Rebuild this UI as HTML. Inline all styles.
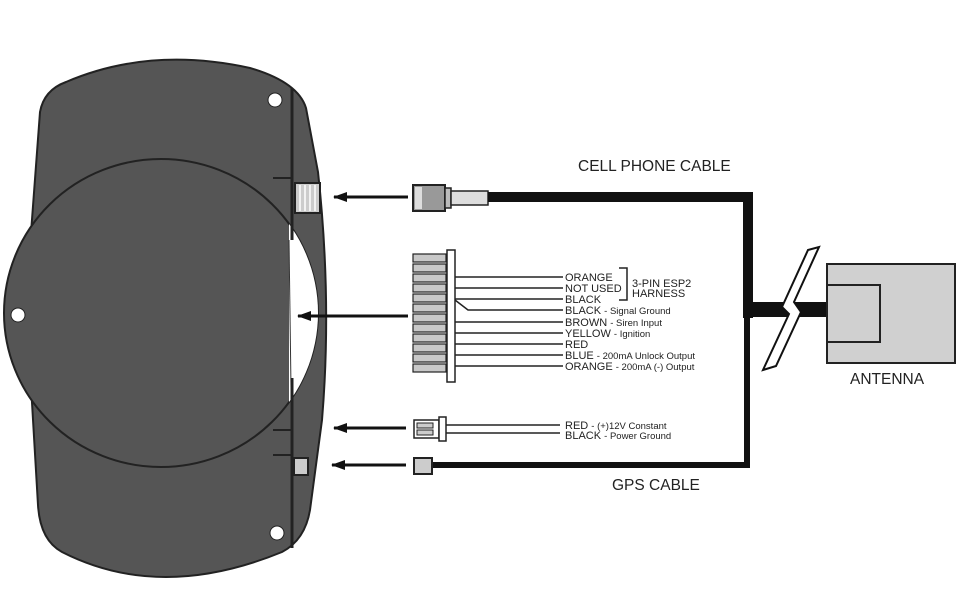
<!DOCTYPE html>
<html><head><meta charset="utf-8"><style>
html,body{margin:0;padding:0;background:#fff;}
svg{display:block;}
text{font-family:"Liberation Sans",Arial,sans-serif;fill:#222;}
</style></head><body>
<svg width="963" height="608" viewBox="0 0 963 608" xmlns="http://www.w3.org/2000/svg">
<defs>
<clipPath id="cc"><ellipse cx="161" cy="313" rx="157" ry="154"/></clipPath>
<marker id="ah" markerWidth="14" markerHeight="10" refX="1" refY="5" orient="auto" markerUnits="userSpaceOnUse">
<path d="M14,0 L0,5 L14,10 Z" fill="#111"/></marker>
</defs>
<path d="M40,112 Q44,90 66,82 Q150,46 250,68 Q298,82 306,108 L318,172 Q332,300 322,420 L310,510 Q305,540 282,552 Q160,602 62,552 Q40,540 38,505 L26,300 Z" fill="#555" stroke="#222" stroke-width="2"/>
<ellipse cx="161" cy="313" rx="157" ry="154" fill="#555" stroke="#222" stroke-width="2"/>
<rect x="289" y="150" width="60" height="330" fill="#fff" clip-path="url(#cc)"/>
<path d="M289,240 L291,388" stroke="#333" stroke-width="1"/>
<line x1="292" y1="88" x2="292" y2="240" stroke="#222" stroke-width="3"/>
<line x1="292" y1="378" x2="292" y2="548" stroke="#222" stroke-width="3"/>
<line x1="273" y1="178" x2="292" y2="178" stroke="#222" stroke-width="2"/>
<line x1="273" y1="430" x2="292" y2="430" stroke="#222" stroke-width="2"/>
<line x1="273" y1="455" x2="292" y2="455" stroke="#222" stroke-width="2"/>
<rect x="295" y="183" width="25" height="30" fill="#ccc" stroke="#222" stroke-width="2"/>
<path d="M300,185v26M305,185v26M310,185v26M315,185v26" stroke="#fff" stroke-width="1.5"/>
<rect x="294" y="458" width="14" height="17" fill="#ccc" stroke="#222" stroke-width="2"/>
<circle cx="275" cy="100" r="7" fill="#fff" stroke="#222"/>
<circle cx="18" cy="315" r="7" fill="#fff" stroke="#222"/>
<circle cx="277" cy="533" r="7" fill="#fff" stroke="#222"/>
<g stroke="#111" stroke-width="3">
<line x1="334" y1="197" x2="408" y2="197" marker-start="url(#ah)"/>
<line x1="298" y1="316" x2="408" y2="316" marker-start="url(#ah)"/>
<line x1="334" y1="428" x2="406" y2="428" marker-start="url(#ah)"/>
<line x1="332" y1="465" x2="406" y2="465" marker-start="url(#ah)"/>
</g>
<rect x="413" y="185" width="32" height="26" fill="#999" stroke="#222" stroke-width="2"/>
<rect x="415" y="187" width="7" height="22" fill="#ddd"/>
<rect x="445" y="188" width="6" height="20" fill="#bbb" stroke="#222" stroke-width="1.5"/>
<rect x="451" y="191" width="37" height="14" fill="#ddd" stroke="#222" stroke-width="1.5"/>
<path d="M488,197 H748 V318" fill="none" stroke="#111" stroke-width="10"/>
<rect x="743" y="302" width="85" height="15" fill="#111"/>
<path d="M747,317 V465 H432" fill="none" stroke="#111" stroke-width="6"/>
<polygon points="808,250 819,247 794,302 801,312 776,366 763,370 789,314 782,307" fill="#fff" stroke="#111" stroke-width="2"/>
<rect x="827" y="264" width="128" height="99" fill="#d0d0d0" stroke="#222" stroke-width="2"/>
<rect x="827" y="285" width="53" height="57" fill="none" stroke="#222" stroke-width="2"/>
<rect x="414" y="458" width="18" height="16" fill="#ccc" stroke="#222" stroke-width="2"/>
<rect x="447" y="250" width="8" height="132" fill="#fff" stroke="#222" stroke-width="1.5"/>
<g fill="#c8c8c8" stroke="#222" stroke-width="1.2">
<rect x="413" y="254" width="33" height="8"/><rect x="413" y="264" width="33" height="8"/><rect x="413" y="274" width="33" height="8"/><rect x="413" y="284" width="33" height="8"/><rect x="413" y="294" width="33" height="8"/><rect x="413" y="304" width="33" height="8"/><rect x="413" y="314" width="33" height="8"/><rect x="413" y="324" width="33" height="8"/><rect x="413" y="334" width="33" height="8"/><rect x="413" y="344" width="33" height="8"/><rect x="413" y="354" width="33" height="8"/><rect x="413" y="364" width="33" height="8"/></g>
<g stroke="#222" stroke-width="1.5" fill="none">
<path d="M455,277H563M455,288H563M455,299H563M455,300L468,310H563M455,322H563M455,333H563M455,344H563M455,355H563M455,366H563"/>
<path d="M619,268H627V300H619"/>
</g>
<g font-size="11">
<text x="565" y="281">ORANGE</text>
<text x="565" y="292">NOT USED</text>
<text x="565" y="303">BLACK</text>
<text x="565" y="314">BLACK <tspan font-size="9.5">- Signal Ground</tspan></text>
<text x="565" y="326">BROWN <tspan font-size="9.5"> - Siren Input</tspan></text>
<text x="565" y="337">YELLOW <tspan font-size="9.5"> - Ignition</tspan></text>
<text x="565" y="348">RED</text>
<text x="565" y="359">BLUE <tspan font-size="9.5"> - 200mA Unlock Output</tspan></text>
<text x="565" y="370">ORANGE <tspan font-size="9.5"> - 200mA (-) Output</tspan></text>
<text x="632" y="287">3-PIN ESP2</text>
<text x="632" y="297">HARNESS</text>
<text x="565" y="429">RED <tspan font-size="9.5"> - (+)12V Constant</tspan></text>
<text x="565" y="439">BLACK <tspan font-size="9.5"> - Power Ground</tspan></text>
</g>
<rect x="414" y="420" width="25" height="18" fill="#fff" stroke="#222" stroke-width="1.5"/>
<rect x="417" y="423" width="16" height="5" fill="#ccc" stroke="#222"/>
<rect x="417" y="430" width="16" height="5" fill="#ccc" stroke="#222"/>
<rect x="439" y="417" width="7" height="24" fill="#fff" stroke="#222" stroke-width="1.5"/>
<path d="M446,425H560M446,433H560" stroke="#222" stroke-width="1.5"/>
<g font-size="15.5">
<text x="578" y="171">CELL PHONE CABLE</text>
<text x="612" y="490">GPS CABLE</text>
<text x="850" y="384">ANTENNA</text>
</g>
</svg>
</body></html>
